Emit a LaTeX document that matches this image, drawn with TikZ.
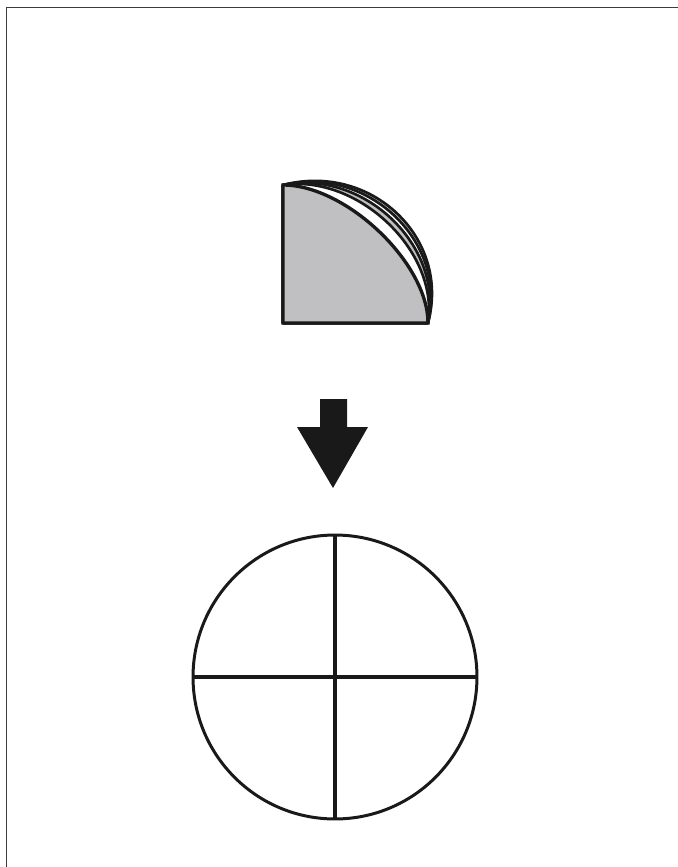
\documentclass[tikz,border=0pt]{standalone}
\usetikzlibrary{calc}
\definecolor{pagegray}{RGB}{192,192,194}
\definecolor{framegray}{RGB}{60,60,60}

\begin{document}
\begin{tikzpicture}[
  x=0.02cm, y=-0.02cm,
  frame/.style  = {draw=framegray, line width=0.9pt},
  page/.style   = {draw=black!90, line width=1.5pt, line join=round},
  heavy/.style  = {draw=black!90, line width=1.9pt},
  spoke/.style  = {draw=black!90, line width=2.3pt}
]
\useasboundingbox (0,0) rectangle (678,867);

% ---- frame ----
\draw[frame] (6.5,867) -- (6.5,7.5) -- (678,7.5);

% ---- fanned quarter pages ----
\coordinate (bl) at (283,323);
\coordinate (tl) at (283,185);
\coordinate (br) at (428,323);
\foreach \a/\b/\f in {25/23/pagegray, 21.5/20/white, 17.5/16/pagegray, 12/11/white}{
  \filldraw[page, fill=\f] (bl) -- (tl)
    .. controls ($(346,185)+(\a,-\b)$) and ($(428,263)+(\b,-\a)$) .. (br) -- cycle;
}
\filldraw[heavy, fill=pagegray] (bl) -- (tl)
  .. controls (346,185) and (428,263) .. (br) -- cycle;

% ---- down arrow ----
\fill[black!90] (320,399) -- (347,399) -- (347,427) -- (368,427)
  -- (333,488) -- (297,427) -- (320,427) -- cycle;

% ---- quartered circle ----
\node[circle, draw=black!90, line width=1.7pt, outer sep=0pt,
      minimum size=5.68cm, inner sep=0pt] (wheel) at (335,677) {};
\draw[spoke] (wheel.north) -- (wheel.south);
\draw[spoke] (wheel.west) -- (wheel.east);

\end{tikzpicture}
\end{document}
